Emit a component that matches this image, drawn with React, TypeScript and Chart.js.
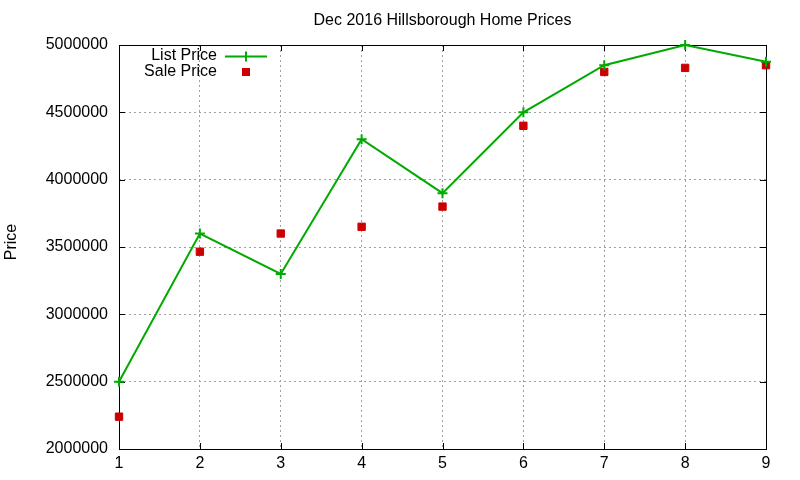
import React, { useEffect, useRef } from "react";
import { Chart, registerables } from "chart.js";

Chart.register(...registerables);

const TITLE = "Dec 2016 Hillsborough Home Prices";
const Y_LABEL = "Price";
const months = [1, 2, 3, 4, 5, 6, 7, 8, 9];
const listPrice = [2500000, 3600000, 3300000, 4300000, 3900000, 4500000, 4850000, 5000000, 4875000];
const salePrice = [2240000, 3465000, 3600000, 3650000, 3800000, 4400000, 4800000, 4830000, 4850000];
const LIST_LABEL = "List Price";
const SALE_LABEL = "Sale Price";
const GREEN = "rgb(0,170,0)";
const RED = "rgb(204,0,0)";
const FONT = "Liberation Sans, Arial, sans-serif";

const gnuPlugin = {
  id: "gnu",
  beforeDatasetsDraw(chart: any) {
    const { ctx, chartArea: a, scales } = chart;
    ctx.save();
    ctx.strokeStyle = "#000";
    ctx.lineWidth = 1;
    const t = 6;
    ctx.beginPath();
    scales.y.ticks.forEach((tk: any) => {
      const y = Math.round(scales.y.getPixelForValue(tk.value)) + 0.5;
      ctx.moveTo(a.left, y);
      ctx.lineTo(a.left + t, y);
      ctx.moveTo(a.right, y);
      ctx.lineTo(a.right - t, y);
    });
    scales.x.ticks.forEach((tk: any) => {
      const x = Math.round(scales.x.getPixelForValue(tk.value)) + 0.5;
      ctx.moveTo(x, a.bottom);
      ctx.lineTo(x, a.bottom - t);
      ctx.moveTo(x, a.top);
      ctx.lineTo(x, a.top + t);
    });
    ctx.stroke();
    ctx.strokeRect(Math.round(a.left) + 0.5, Math.round(a.top) + 0.5, Math.round(a.right - a.left), Math.round(a.bottom - a.top));
    ctx.restore();
  },
  afterDraw(chart: any) {
    const { ctx, chartArea: a } = chart;
    ctx.save();
    ctx.fillStyle = "#000";
    ctx.font = `16px ${FONT}`;
    ctx.textAlign = "center";
    ctx.textBaseline = "middle";
    ctx.fillText(TITLE, (a.left + a.right) / 2, 21);
    ctx.save();
    ctx.translate(12, 242);
    ctx.rotate(-Math.PI / 2);
    ctx.fillText(Y_LABEL, 0, 0);
    ctx.restore();
    // legend
    const ds = chart.data.datasets;
    ctx.textAlign = "right";
    ctx.fillText(ds[0].label, 217, 56);
    ctx.fillText(ds[1].label, 217, 72);
    ctx.strokeStyle = ds[0].borderColor;
    ctx.lineWidth = 2;
    ctx.beginPath();
    ctx.moveTo(225, 56.5);
    ctx.lineTo(267, 56.5);
    ctx.moveTo(246, 51.5);
    ctx.lineTo(246, 61.5);
    ctx.stroke();
    ctx.fillStyle = ds[1].backgroundColor;
    ctx.fillRect(242, 68, 8, 8);
    ctx.restore();
  },
};

export default function App() {
  const ref = useRef<HTMLCanvasElement>(null);
  useEffect(() => {
    if (!ref.current) return;
    const chart = new Chart(ref.current, {
      type: "line",
      data: {
        datasets: [
          {
            label: LIST_LABEL,
            data: months.map((m, i) => ({ x: m, y: listPrice[i] })),
            borderColor: GREEN,
            backgroundColor: GREEN,
            borderWidth: 2,
            pointStyle: "cross",
            pointRadius: 5,
            pointBorderWidth: 2,
            tension: 0,
            clip: false as any,
          },
          {
            label: SALE_LABEL,
            data: months.map((m, i) => ({ x: m, y: salePrice[i] })),
            borderColor: RED,
            backgroundColor: RED,
            showLine: false,
            pointStyle: "rect",
            pointRadius: 5.2,
            pointBorderWidth: 1,
            clip: false as any,
          },
        ],
      },
      options: {
        animation: false,
        responsive: false,
        devicePixelRatio: 1,
        layout: { padding: { left: 0, top: 45, right: 34, bottom: 0 } },
        plugins: { legend: { display: false }, title: { display: false }, tooltip: { enabled: false } },
        scales: {
          x: {
            type: "linear",
            min: 1,
            max: 9,
            ticks: { stepSize: 1, color: "#000", font: { size: 16, family: FONT }, padding: 5 },
            grid: { color: "#a0a0a0", lineWidth: 1, drawTicks: false },
            border: { display: false, dash: [2, 3] },
            afterFit: (s: any) => { s.height = 31; },
          },
          y: {
            min: 2000000,
            max: 5000000,
            ticks: {
              stepSize: 500000,
              color: "#000",
              font: { size: 16, family: FONT },
              padding: 11,
              callback: (v: any) => String(v),
            },
            grid: { color: "#a0a0a0", lineWidth: 1, drawTicks: false },
            border: { display: false, dash: [2, 3] },
            afterFit: (s: any) => { s.width = 119; },
          },
        },
      } as any,
      plugins: [gnuPlugin],
    });
    return () => chart.destroy();
  }, []);
  return (
    <div style={{ position: "absolute", left: 0, top: 0, width: 800, height: 480, background: "#fff" }}>
      <canvas ref={ref} width={800} height={480} />
    </div>
  );
}
